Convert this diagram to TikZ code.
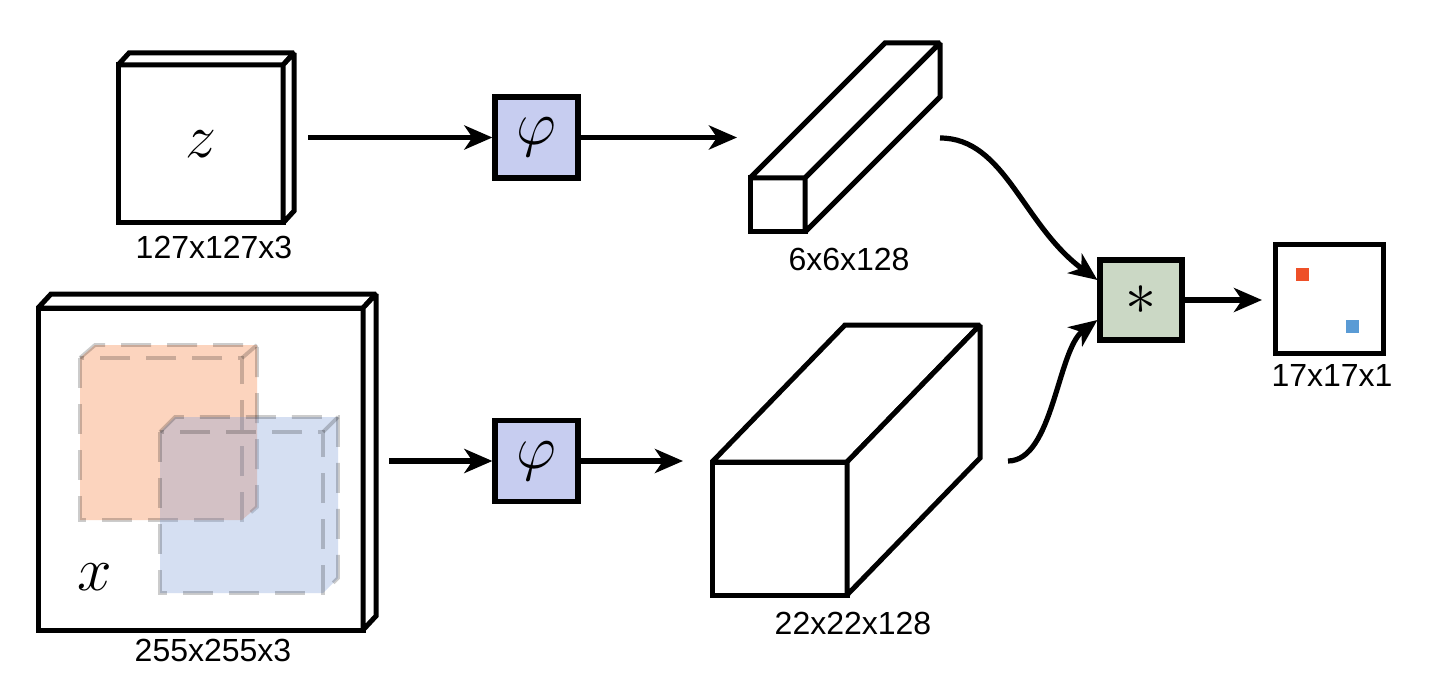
\RequirePackage{fix-cm}
\documentclass[tikz,border=0pt]{standalone}
\usepackage{fontspec}
\setmainfont{Liberation Sans}
\usetikzlibrary{arrows.meta,calc}
\definecolor{phifill}{RGB}{199,205,240}
\definecolor{starfill}{RGB}{203,216,197}
\definecolor{orangefill}{RGB}{252,212,190}
\definecolor{bluefill}{RGB}{118,152,215}
\definecolor{redsq}{RGB}{238,80,40}
\definecolor{bluesq}{RGB}{90,155,213}
\tikzset{
  lbl/.style={font=\fontsize{16}{16}\selectfont, inner sep=0pt},
  mathlbl/.style={font=\fontsize{31}{31}\selectfont, inner sep=0pt},
  face/.style={draw=black, line width=2.5pt, fill=white, line join=miter, miter limit=1.5},
  frontface/.style={face, inner sep=0pt, outer sep=0pt},
  opbox/.style={draw=black, line width=2.6pt, inner sep=0pt, line join=miter,
                minimum width=41.5pt, minimum height=40.5pt, font=\fontsize{31}{31}\selectfont},
  arr/.style={line width=2.6pt, -{Stealth[length=14pt,width=12pt,inset=4pt]}},
  dcube/.style={draw=black, draw opacity=0.2, line width=1.9pt, dash pattern=on 15pt off 8pt, line join=miter, miter limit=1.5},
}
\begin{document}
\begin{tikzpicture}[x=0.5pt,y=-0.5pt]
\useasboundingbox (0,0) rectangle (1429,695);

% ---------- z slab ----------
\node[frontface, minimum width=82.5pt, minimum height=79pt] (zf) at (200.5,144) {};
\draw[face] (zf.north west) -- +(11,-12) -- ($(zf.north east)+(11,-12)$) -- (zf.north east) -- cycle;
\draw[face] (zf.north east) -- +(11,-12) -- ($(zf.south east)+(11,-12)$) -- (zf.south east) -- cycle;
\node[mathlbl] (zl) at (200.5,144) {$z$};
\node[lbl] (zlab) at (214,247) {127x127x3};

% ---------- x slab ----------
\node[frontface, minimum width=162.5pt, minimum height=161pt] (xf) at (200.5,469) {};
\draw[face] (xf.north west) -- +(13,-14) -- ($(xf.north east)+(13,-14)$) -- (xf.north east) -- cycle;
\draw[face] (xf.north east) -- +(13,-14) -- ($(xf.south east)+(13,-14)$) -- (xf.south east) -- cycle;
% orange search window
\fill[orangefill] (80,358) -- (95,345) -- (257,345) -- (257,507) -- (242,520) -- (80,520) -- cycle;
\draw[dcube] (80,358) rectangle (242,520);
\draw[dcube] (80,358) -- (95,345) -- (257,345) -- (257,507) -- (242,520);
\draw[dcube] (242,358) -- (257,345);
% blue search window
\fill[bluefill, fill opacity=0.3] (160,432) -- (175,417) -- (338,417) -- (338,578) -- (323,593) -- (160,593) -- cycle;
\draw[dcube] (160,432) rectangle (323,593);
\draw[dcube] (160,432) -- (175,417) -- (338,417) -- (338,578) -- (323,593);
\draw[dcube] (323,432) -- (338,417);
\node[mathlbl] (xl) at (95,577) {$x$};
\node[lbl] (xlab) at (213,650) {255x255x3};

% ---------- phi boxes ----------
\node[opbox, fill=phifill] (phi1) at (536.5,137.5) {$\varphi$};
\node[opbox, fill=phifill] (phi2) at (536.5,461) {$\varphi$};

% ---------- 6x6x128 feature ----------
\node[frontface, minimum width=27.5pt, minimum height=27pt] (ff1) at (777.5,205) {};
\draw[face] (ff1.north west) -- +(135,-135) -- ($(ff1.north east)+(135,-135)$) -- (ff1.north east) -- cycle;
\draw[face] (ff1.north east) -- +(135,-135) -- ($(ff1.south east)+(135,-135)$) -- (ff1.south east) -- cycle;
\node[lbl] (ff1lab) at (849,259) {6x6x128};

% ---------- 22x22x128 feature ----------
\node[frontface, minimum width=67.5pt, minimum height=66.5pt] (ff2) at (779.5,528.5) {};
\draw[face] (ff2.north west) -- +(133,-137) -- ($(ff2.north east)+(133,-137)$) -- (ff2.north east) -- cycle;
\draw[face] (ff2.north east) -- +(133,-137) -- ($(ff2.south east)+(133,-137)$) -- (ff2.south east) -- cycle;
\node[lbl] (ff2lab) at (853,623) {22x22x128};

% ---------- cross-correlation ----------
\node[opbox, fill=starfill, minimum width=41pt, minimum height=40pt] (star) at (1141,300) {$\ast$};

% ---------- score map ----------
\node[frontface, minimum width=54pt, minimum height=54pt] (out) at (1329,299) {};
\node[fill=redsq, inner sep=0pt, minimum size=6.5pt] (rs) at (1302.5,275) {};
\node[fill=bluesq, inner sep=0pt, minimum size=6.5pt] (bs) at (1352,326) {};
\node[lbl] (outlab) at (1332,375) {17x17x1};

% ---------- connectors ----------
\coordinate (s1) at (308,137.5);
\coordinate (t1) at (737,137.5);
\coordinate (s2) at (389,461);
\coordinate (t2) at (683,461);
\coordinate (c1) at (940,138);
\coordinate (c2) at (1008,461);
\coordinate (t3) at (1262,300);
\draw[arr] (s1) -- (phi1.west);
\draw[arr] (phi1.east) -- (t1);
\draw[arr] (s2) -- (phi2.west);
\draw[arr] (phi2.east) -- (t2);
\draw[arr] (c1) .. controls +(65,0) and +(-75,-55) .. ($(star.west)+(0,-20)$);
\draw[arr] (c2) .. controls +(45,0) and +(-40,30) .. ($(star.west)+(0,20)$);
\draw[arr] (star.east) -- (t3);
\end{tikzpicture}
\end{document}
